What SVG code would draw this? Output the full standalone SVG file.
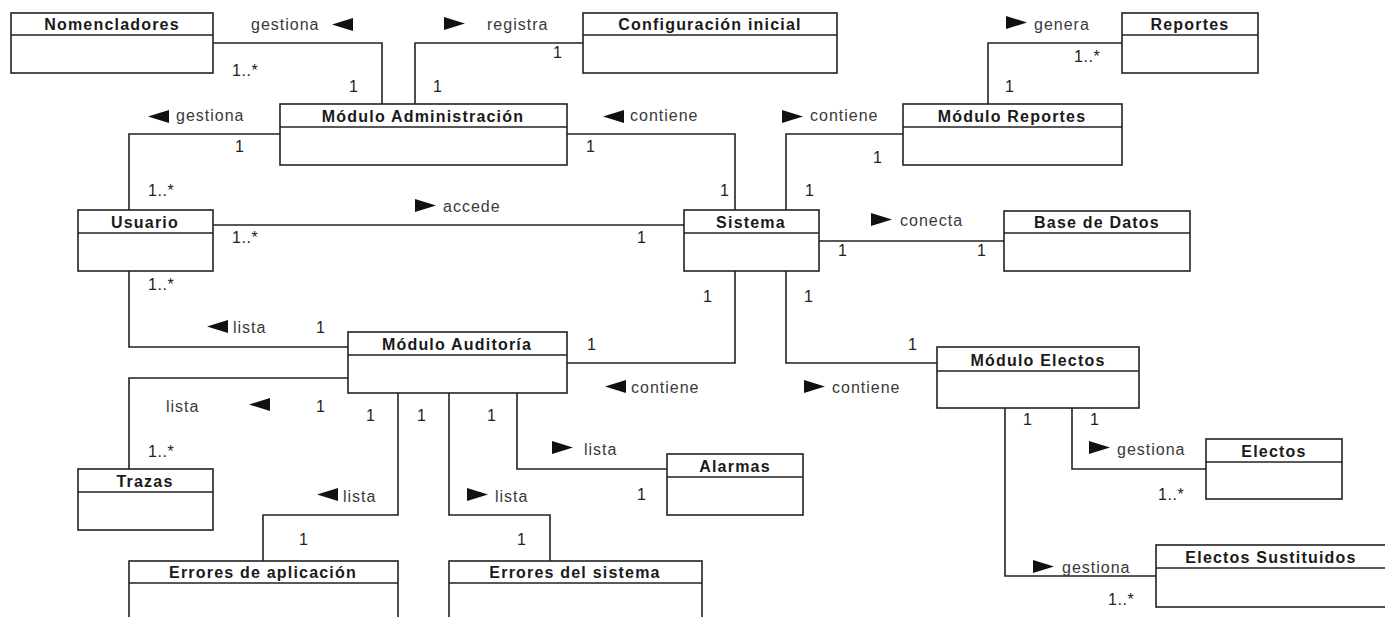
<svg xmlns="http://www.w3.org/2000/svg" xmlns:xlink="http://www.w3.org/1999/xlink" width="1385" height="617" viewBox="0 0 1385 617">
  <style>
    .box { fill: #ffffff; stroke: #222222; stroke-width: 1.6; }
    .sep { stroke: #222222; stroke-width: 1.6; }
    .name { font-family: "Liberation Sans", Arial, sans-serif; font-weight: bold; font-size: 16px; letter-spacing: 1.2px; fill: #1a1a1a; text-anchor: middle; }
    .lbl { font-family: "Liberation Sans", Arial, sans-serif; font-size: 16px; letter-spacing: 1px; fill: #3a3a3a; }
    .mult { font-family: "Liberation Sans", Arial, sans-serif; font-size: 16px; letter-spacing: 0.6px; fill: #222222; }
    .wire { fill: none; stroke: #222222; stroke-width: 1.6; }
    .tri { fill: #111111; }
  </style>
  <defs>
    <path id="triR" d="M0,0 L21,6.5 L0,13 Z"/>
    <path id="triL" d="M21,0 L0,6.5 L21,13 Z"/>
  </defs>
  <rect width="1385" height="617" fill="#ffffff"/>

  <!-- associations -->
  <g id="connectors">
    <polyline class="wire" points="213,43 382,43 382,104"/>
    <polyline class="wire" points="415,104 415,43 583,43"/>
    <polyline class="wire" points="1122,43 988,43 988,104"/>
    <polyline class="wire" points="280,134 129,134 129,210"/>
    <polyline class="wire" points="567,134 735,134 735,210"/>
    <polyline class="wire" points="786,210 786,134 903,134"/>
    <polyline class="wire" points="213,225 684,225"/>
    <polyline class="wire" points="819,241 1004,241"/>
    <polyline class="wire" points="129,271 129,347 348,347"/>
    <polyline class="wire" points="735,271 735,363 567,363"/>
    <polyline class="wire" points="786,271 786,363 937,363"/>
    <polyline class="wire" points="348,378 129,378 129,469"/>
    <polyline class="wire" points="398,393 398,515 263,515 263,561"/>
    <polyline class="wire" points="449,393 449,515 550,515 550,561"/>
    <polyline class="wire" points="517,393 517,469 667,469"/>
    <polyline class="wire" points="1072,408 1072,469 1206,469"/>
    <polyline class="wire" points="1005,408 1005,576 1156,576"/>

    <!-- association names with direction triangles -->
    <text class="lbl" x="251" y="30">gestiona</text>
    <use class="tri" xlink:href="#triL" x="332" y="18"/>
    <use class="tri" xlink:href="#triR" x="444" y="17"/>
    <text class="lbl" x="487" y="30">registra</text>
    <use class="tri" xlink:href="#triR" x="1006" y="16"/>
    <text class="lbl" x="1034" y="30">genera</text>
    <use class="tri" xlink:href="#triL" x="148" y="110"/>
    <text class="lbl" x="176" y="121">gestiona</text>
    <use class="tri" xlink:href="#triL" x="603" y="110"/>
    <text class="lbl" x="630" y="121">contiene</text>
    <use class="tri" xlink:href="#triR" x="782" y="110"/>
    <text class="lbl" x="810" y="121">contiene</text>
    <use class="tri" xlink:href="#triR" x="415" y="199"/>
    <text class="lbl" x="443" y="212">accede</text>
    <use class="tri" xlink:href="#triR" x="871" y="213"/>
    <text class="lbl" x="900" y="226">conecta</text>
    <use class="tri" xlink:href="#triL" x="207" y="320"/>
    <text class="lbl" x="233" y="333">lista</text>
    <use class="tri" xlink:href="#triL" x="605" y="380"/>
    <text class="lbl" x="631" y="393">contiene</text>
    <use class="tri" xlink:href="#triR" x="804" y="380"/>
    <text class="lbl" x="832" y="393">contiene</text>
    <text class="lbl" x="166" y="412">lista</text>
    <use class="tri" xlink:href="#triL" x="249" y="398"/>
    <use class="tri" xlink:href="#triR" x="552" y="441"/>
    <text class="lbl" x="584" y="455">lista</text>
    <use class="tri" xlink:href="#triR" x="1089" y="441"/>
    <text class="lbl" x="1117" y="455">gestiona</text>
    <use class="tri" xlink:href="#triL" x="317" y="488"/>
    <text class="lbl" x="343" y="502">lista</text>
    <use class="tri" xlink:href="#triR" x="467" y="488"/>
    <text class="lbl" x="495" y="502">lista</text>
    <use class="tri" xlink:href="#triR" x="1033" y="560"/>
    <text class="lbl" x="1062" y="573">gestiona</text>

    <!-- multiplicities -->
    <text class="mult" x="232" y="76">1..*</text>
    <text class="mult" x="349" y="92">1</text>
    <text class="mult" x="433" y="92">1</text>
    <text class="mult" x="553" y="58">1</text>
    <text class="mult" x="1074" y="62">1..*</text>
    <text class="mult" x="1005" y="92">1</text>
    <text class="mult" x="235" y="152">1</text>
    <text class="mult" x="586" y="152">1</text>
    <text class="mult" x="873" y="163">1</text>
    <text class="mult" x="148" y="196">1..*</text>
    <text class="mult" x="720" y="196">1</text>
    <text class="mult" x="805" y="196">1</text>
    <text class="mult" x="232" y="243">1..*</text>
    <text class="mult" x="637" y="243">1</text>
    <text class="mult" x="838" y="256">1</text>
    <text class="mult" x="977" y="256">1</text>
    <text class="mult" x="148" y="290">1..*</text>
    <text class="mult" x="703" y="302">1</text>
    <text class="mult" x="804" y="302">1</text>
    <text class="mult" x="316" y="333">1</text>
    <text class="mult" x="587" y="350">1</text>
    <text class="mult" x="908" y="350">1</text>
    <text class="mult" x="316" y="412">1</text>
    <text class="mult" x="366" y="421">1</text>
    <text class="mult" x="417" y="421">1</text>
    <text class="mult" x="487" y="421">1</text>
    <text class="mult" x="1023" y="425">1</text>
    <text class="mult" x="1090" y="425">1</text>
    <text class="mult" x="148" y="457">1..*</text>
    <text class="mult" x="637" y="500">1</text>
    <text class="mult" x="1158" y="500">1..*</text>
    <text class="mult" x="299" y="545">1</text>
    <text class="mult" x="517" y="545">1</text>
    <text class="mult" x="1108" y="605">1..*</text>
  </g>

  <!-- classes -->
  <g id="nomencladores">
    <rect class="box" x="11" y="13" width="202" height="60"/>
    <line class="sep" x1="11" y1="35" x2="213" y2="35"/>
    <text class="name" x="112" y="30">Nomencladores</text>
  </g>
  <g id="configuracion-inicial">
    <rect class="box" x="583" y="13" width="254" height="60"/>
    <line class="sep" x1="583" y1="35" x2="837" y2="35"/>
    <text class="name" x="710" y="30">Configuración inicial</text>
  </g>
  <g id="reportes">
    <rect class="box" x="1122" y="13" width="136" height="60"/>
    <line class="sep" x1="1122" y1="35" x2="1258" y2="35"/>
    <text class="name" x="1190" y="30">Reportes</text>
  </g>
  <g id="modulo-administracion">
    <rect class="box" x="280" y="104" width="287" height="61"/>
    <line class="sep" x1="280" y1="127" x2="567" y2="127"/>
    <text class="name" x="423" y="122">Módulo Administración</text>
  </g>
  <g id="modulo-reportes">
    <rect class="box" x="903" y="104" width="219" height="61"/>
    <line class="sep" x1="903" y1="127" x2="1122" y2="127"/>
    <text class="name" x="1012" y="122">Módulo Reportes</text>
  </g>
  <g id="usuario">
    <rect class="box" x="78" y="210" width="135" height="61"/>
    <line class="sep" x1="78" y1="233" x2="213" y2="233"/>
    <text class="name" x="145" y="228">Usuario</text>
  </g>
  <g id="sistema">
    <rect class="box" x="684" y="210" width="135" height="61"/>
    <line class="sep" x1="684" y1="233" x2="819" y2="233"/>
    <text class="name" x="751" y="228">Sistema</text>
  </g>
  <g id="base-de-datos">
    <rect class="box" x="1004" y="211" width="186" height="60"/>
    <line class="sep" x1="1004" y1="233" x2="1190" y2="233"/>
    <text class="name" x="1097" y="228">Base de Datos</text>
  </g>
  <g id="modulo-auditoria">
    <rect class="box" x="348" y="332" width="219" height="61"/>
    <line class="sep" x1="348" y1="355" x2="567" y2="355"/>
    <text class="name" x="457" y="350">Módulo Auditoría</text>
  </g>
  <g id="modulo-electos">
    <rect class="box" x="937" y="347" width="202" height="61"/>
    <line class="sep" x1="937" y1="371" x2="1139" y2="371"/>
    <text class="name" x="1038" y="366">Módulo Electos</text>
  </g>
  <g id="trazas">
    <rect class="box" x="78" y="469" width="135" height="61"/>
    <line class="sep" x1="78" y1="492" x2="213" y2="492"/>
    <text class="name" x="145" y="487">Trazas</text>
  </g>
  <g id="alarmas">
    <rect class="box" x="667" y="454" width="136" height="61"/>
    <line class="sep" x1="667" y1="477" x2="803" y2="477"/>
    <text class="name" x="735" y="472">Alarmas</text>
  </g>
  <g id="electos">
    <rect class="box" x="1206" y="439" width="136" height="60"/>
    <line class="sep" x1="1206" y1="462" x2="1342" y2="462"/>
    <text class="name" x="1274" y="457">Electos</text>
  </g>
  <g id="errores-aplicacion">
    <rect class="box" x="129" y="561" width="269" height="70"/>
    <line class="sep" x1="129" y1="583" x2="398" y2="583"/>
    <text class="name" x="263" y="578">Errores de aplicación</text>
  </g>
  <g id="errores-sistema">
    <rect class="box" x="449" y="561" width="253" height="70"/>
    <line class="sep" x1="449" y1="583" x2="702" y2="583"/>
    <text class="name" x="575" y="578">Errores del sistema</text>
  </g>
  <g id="electos-sustituidos">
    <rect class="box" x="1156" y="545" width="232" height="62"/>
    <line class="sep" x1="1156" y1="568" x2="1388" y2="568"/>
    <text class="name" x="1271" y="563">Electos Sustituidos</text>
  </g>
</svg>
